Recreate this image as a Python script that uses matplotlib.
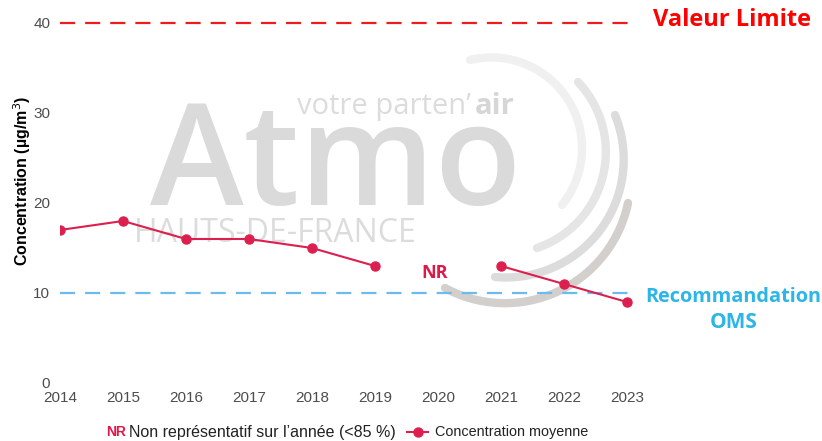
import numpy as np
import matplotlib
matplotlib.use("Agg")
import matplotlib.pyplot as plt
from matplotlib.lines import Line2D

plt.rcParams['font.family'] = ['Liberation Sans', 'DejaVu Sans']

# --- données ---
annees = [2014, 2015, 2016, 2017, 2018, 2019, 2020, 2021, 2022, 2023]
concentration = [17, 18, 16, 16, 15, 13, np.nan, 13, 11, 9]
valeur_limite = 40
recommandation_oms = 10
yticks = [0, 10, 20, 30, 40]

rouge_ligne = '#dc1f4e'
rouge_vl = '#f01c1c'
bleu_oms = '#6cbbef'
bleu_txt = '#2cb5e6'
gris_ticks = '#4d4d4d'

fig = plt.figure(figsize=(8.22, 4.41), dpi=100)

# --- filigrane Atmo (coordonnées en pixels, y vers le bas) ---
bg = fig.add_axes([0, 0, 1, 1], zorder=0)
bg.set_xlim(0, 822)
bg.set_ylim(441, 0)
bg.axis('off')


def arc_par_trois_points(p1, p2, p3, n=80):
    (x1, y1), (x2, y2), (x3, y3) = p1, p2, p3
    a = 2 * np.array([[x2 - x1, y2 - y1], [x3 - x1, y3 - y1]])
    b = np.array([x2**2 - x1**2 + y2**2 - y1**2, x3**2 - x1**2 + y3**2 - y1**2])
    cx, cy = np.linalg.solve(a, b)
    r = np.hypot(x1 - cx, y1 - cy)
    t1, t2, t3 = [np.arctan2(y - cy, x - cx) for x, y in (p1, p2, p3)]
    d13 = (t3 - t1) % (2 * np.pi)
    d12 = (t2 - t1) % (2 * np.pi)
    fin = t1 + d13 if d12 < d13 else t1 - (2 * np.pi - d13)
    t = np.linspace(t1, fin, n)
    return cx + r * np.cos(t), cy + r * np.sin(t)


arcs = [
    (((470, 60), (582, 150), (562, 205)), '#f0f0f0'),
    (((578, 82), (605, 165), (537, 248)), '#e5e5e5'),
    (((615, 115), (587, 245), (495, 277)), '#dcdcdc'),
    (((628, 203), (597, 263), (445, 288)), '#d3cfcd'),
]
for pts, c in arcs:
    xs, ys = arc_par_trois_points(*pts)
    bg.plot(xs, ys, color=c, lw=6, solid_capstyle='round')

bg.text(150, 205, "Atmo", fontsize=102, color='#dadada', fontweight='semibold',
        family='Open Sans', ha='left', va='baseline')
bg.text(297, 114, "votre parten\u2019", fontsize=21, color='#dcdcdc',
        family='Open Sans', ha='left', va='baseline')
bg.text(475, 114, "air", fontsize=21, color='#d6d6d6', fontweight='bold',
        family='Open Sans', ha='left', va='baseline')
bg.text(134, 242, "HAUTS-DE-FRANCE", fontsize=23, color='#dcdcdc',
        family='Open Sans', ha='left', va='baseline')

# --- graphique principal ---
ax = fig.add_axes([60 / 822, 1 - 383 / 441, 572 / 822, 373.5 / 441], zorder=1)
ax.patch.set_alpha(0)
ax.set_xlim(2014, 2023.08)
ax.set_ylim(0, 41.5)

ax.axhline(valeur_limite, color=rouge_vl, lw=1.6, linestyle=(0, (6.8, 4.5)))
ax.axhline(recommandation_oms, color=bleu_oms, lw=1.6, linestyle=(0, (6.8, 4.5)))

ax.plot(annees, concentration, color=rouge_ligne, lw=1.5, marker='o', markersize=6.5)

ax.text(2019.94, 12.2, "NR", color='#e0184a', fontsize=13, fontweight='bold',
        family='Open Sans', ha='center', va='center')

ax.set_xticks(annees)
ax.set_yticks(yticks)
ax.tick_params(length=0, labelsize=11, labelcolor=gris_ticks)
ax.tick_params(axis='x', pad=6)
ax.tick_params(axis='y', pad=7)
for s in ax.spines.values():
    s.set_visible(False)

ax.set_ylabel("Concentration (µg/m$^3$)", fontsize=11.5, fontweight='bold', color='black')
ax.yaxis.set_label_coords(-0.048, 0.54)

# --- annotations à droite ---
fig.text(732 / 822, 1 - 20 / 441, "Valeur Limite", color='#ff0000', fontsize=17,
         fontweight='bold', family='Open Sans', ha='center', va='center')
fig.text(733 / 822, 1 - 297 / 441, "Recommandation", color=bleu_txt, fontsize=14.3,
         fontweight='bold', family='Open Sans', ha='center', va='center')
fig.text(734 / 822, 1 - 323 / 441, "OMS", color=bleu_txt, fontsize=15,
         fontweight='bold', family='Open Sans', ha='center', va='center')

# --- légende ---
yl = 1 - 432 / 441
fig.text(106 / 822, yl, "NR", color='#e0184a', fontsize=10, fontweight='bold',
         ha='left', va='center')
fig.text(129 / 822, yl, "Non représentatif sur l\u2019année (<85 %)", color='#222222',
         fontsize=11.5, ha='left', va='center')
fig.add_artist(Line2D([407 / 822, 428 / 822], [yl, yl], transform=fig.transFigure,
                      color=rouge_ligne, lw=1.5))
fig.add_artist(Line2D([417.5 / 822], [yl], transform=fig.transFigure,
                      color=rouge_ligne, marker='o', markersize=6.5, lw=0))
fig.text(435 / 822, yl, "Concentration moyenne", color='#222222', fontsize=10.4,
         ha='left', va='center')

fig.savefig('out.png', dpi=100)
